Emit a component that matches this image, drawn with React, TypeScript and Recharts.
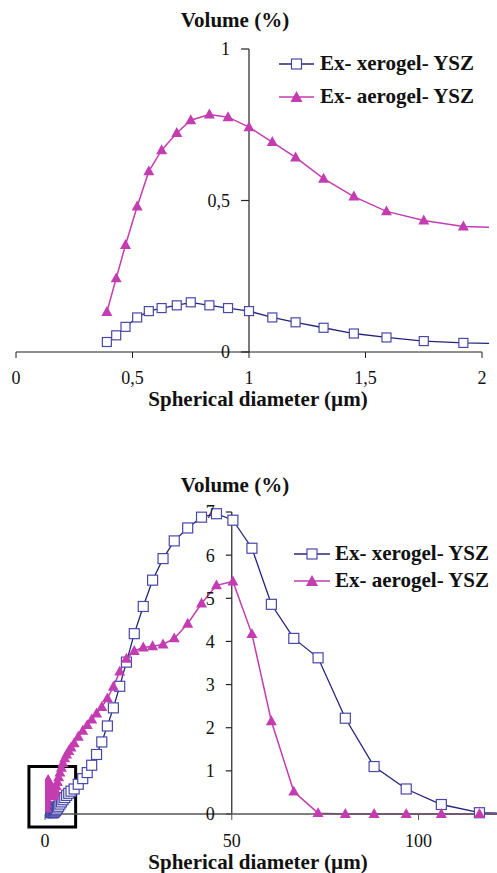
import React from "react";
import {
  LineChart,
  Line,
  XAxis,
  YAxis,
  ReferenceLine,
  ReferenceArea,
  Legend,
} from "recharts";

const SERIF = "Liberation Serif";
const XERO_LINE = "#24247c";
const XERO_MARK = "#4848a8";
const AERO = "#c43db0";
const AXIS = "#222";

// size bins (µm), shared by both series
const sizes = [
  0.39, 0.43, 0.47, 0.52, 0.57, 0.625, 0.69, 0.75, 0.83, 0.91, 1.0, 1.1, 1.2,
  1.32, 1.45, 1.59, 1.75, 1.92, 2.1, 2.3, 2.52, 2.77, 3.04, 3.33, 3.65, 4.0,
  4.39, 4.81, 5.28, 5.79, 6.35, 6.96, 7.8, 8.9, 10.1, 11.3, 12.5, 13.8, 15.2,
  16.7, 18.3, 20.0, 21.8, 23.9, 26.3, 28.8, 31.6, 34.6, 38.2, 41.9, 45.9, 50.3,
  55.4, 60.6, 66.6, 73.1, 80.4, 88.1, 96.7, 106.1, 116.3, 127,
];

// volume (%)
const xerogel = [
  0.033, 0.055, 0.083, 0.114, 0.135, 0.145, 0.154, 0.164, 0.154, 0.145, 0.135,
  0.114, 0.098, 0.08, 0.061, 0.048, 0.036, 0.03, 0.028, 0.035, 0.05, 0.075, 0.1,
  0.14, 0.18, 0.23, 0.28, 0.33, 0.38, 0.43, 0.48, 0.53, 0.58, 0.69, 0.82, 0.96,
  1.13, 1.38, 1.67, 2.04, 2.46, 2.96, 3.52, 4.18, 4.81, 5.42, 5.92, 6.33, 6.63,
  6.88, 6.96, 6.81, 6.16, 4.86, 4.07, 3.62, 2.22, 1.1, 0.58, 0.22, 0.03, 0.0,
];

const aerogel = [
  0.132, 0.243, 0.353, 0.48, 0.596, 0.666, 0.723, 0.765, 0.784, 0.775, 0.742,
  0.693, 0.642, 0.572, 0.513, 0.464, 0.434, 0.414, 0.41, 0.43, 0.48, 0.55, 0.64,
  0.74, 0.85, 0.96, 1.07, 1.18, 1.29, 1.38, 1.46, 1.54, 1.64, 1.79, 1.93, 2.06,
  2.19, 2.33, 2.48, 2.68, 2.95, 3.3, 3.6, 3.78, 3.86, 3.89, 3.93, 4.07, 4.41,
  4.88, 5.3, 5.39, 4.17, 2.15, 0.52, 0.02, 0, 0, 0, 0, 0, 0, 0,
];

const seriesNames = ["Ex- xerogel- YSZ", "Ex- aerogel- YSZ"];

const topXTicks = [0, 0.5, 1, 1.5, 2];
const topYTicks = [0, 0.5, 1];
const bottomXTicks = [0, 50, 100];
const bottomYTicks = [0, 1, 2, 3, 4, 5, 6, 7];

const rows = sizes.map((d, i) => ({ d, xero: xerogel[i], aero: aerogel[i] }));
const topRows = rows.filter((r) => r.d <= 2.1);

const comma = (v: number) => String(v).replace(".", ",");

function makeSquare(size: number) {
  return (props: any) => {
    const { cx, cy, index } = props;
    if (cx == null || cy == null) return <g key={`s-${index}`} />;
    return (
      <rect
        key={`s-${index}`}
        x={cx - size / 2}
        y={cy - size / 2}
        width={size}
        height={size}
        fill="#fff"
        stroke={XERO_MARK}
        strokeWidth={1.2}
      />
    );
  };
}

function makeTriangle(w: number) {
  return (props: any) => {
    const { cx, cy, index } = props;
    if (cx == null || cy == null) return <g key={`t-${index}`} />;
    const h = w * 0.9;
    return (
      <polygon
        key={`t-${index}`}
        points={`${cx},${cy - h * 0.6} ${cx - w / 2},${cy + h * 0.4} ${cx + w / 2},${cy + h * 0.4}`}
        fill={AERO}
      />
    );
  };
}

function LegendBox({ rowH, lineW, gap }: { rowH: number; lineW: number; gap: number }) {
  return (
    <div style={{ fontFamily: SERIF, fontWeight: "bold", fontSize: 21, color: "#111" }}>
      {seriesNames.map((name, i) => (
        <div key={name} style={{ height: rowH, display: "flex", alignItems: "center" }}>
          <svg width={lineW} height={14} style={{ marginRight: gap }}>
            <line x1={0} y1={7} x2={lineW} y2={7} stroke={i === 0 ? XERO_LINE : AERO} strokeWidth={1.5} />
            {i === 0 ? (
              <rect x={lineW / 2 - 5} y={2} width={10} height={10} fill="#fff" stroke={XERO_MARK} strokeWidth={1.2} />
            ) : (
              <polygon points={`${lineW / 2},1 ${lineW / 2 - 6},12 ${lineW / 2 + 6},12`} fill={AERO} />
            )}
          </svg>
          <span style={{ whiteSpace: "nowrap" }}>{name}</span>
        </div>
      ))}
    </div>
  );
}

const titleStyle: React.CSSProperties = {
  position: "absolute",
  fontFamily: SERIF,
  fontWeight: "bold",
  fontSize: 21,
  lineHeight: "22px",
  color: "#111",
  textAlign: "center",
  whiteSpace: "nowrap",
};

export default function App() {
  return (
    <div
      style={{
        position: "absolute",
        left: 0,
        top: 0,
        width: 497,
        height: 873,
        background: "#fff",
        fontFamily: SERIF,
        overflow: "hidden",
      }}
    >
      {/* top panel: 0 - 2 µm */}
      <div style={{ position: "absolute", left: 0, top: 0 }}>
        <LineChart
          width={497}
          height={410}
          data={topRows}
          margin={{ top: 49, right: 8, left: 16, bottom: 0 }}
          style={{ fontFamily: SERIF }}
        >
          <XAxis
            type="number"
            dataKey="d"
            domain={[0, 2.03]}
            allowDataOverflow
            ticks={topXTicks}
            interval={0}
            tickFormatter={comma}
            axisLine={false}
            tickLine={{ stroke: AXIS }}
            tickSize={6}
            tickMargin={13}
            height={58}
            tick={{ fill: "#111", fontSize: 18, fontFamily: SERIF }}
          />
          <YAxis hide type="number" domain={[0, 1]} />
          <ReferenceLine segment={[{ x: 0, y: 0 }, { x: 2, y: 0 }]} stroke={AXIS} strokeWidth={1.2} />
          <ReferenceLine segment={[{ x: 1, y: 0 }, { x: 1, y: 1 }]} stroke={AXIS} strokeWidth={1.2} />
          {topYTicks.map((v) => (
            <ReferenceLine
              key={v}
              segment={[{ x: 0.966, y: v }, { x: 1, y: v }]}
              stroke={AXIS}
              strokeWidth={1.2}
              label={{ value: comma(v), position: "left", offset: 11, fill: "#111", fontSize: 18, fontFamily: SERIF }}
            />
          ))}
          <Line
            type="linear"
            dataKey="xero"
            stroke={XERO_LINE}
            strokeWidth={1.3}
            dot={makeSquare(9)}
            isAnimationActive={false}
          />
          <Line
            type="linear"
            dataKey="aero"
            stroke={AERO}
            strokeWidth={1.5}
            dot={makeTriangle(11)}
            isAnimationActive={false}
          />
          <Legend
            layout="horizontal"
            verticalAlign="middle"
            align="center"
            wrapperStyle={{ top: 47, left: 279, width: 218 }}
            content={() => <LegendBox rowH={33} lineW={35} gap={6} />}
          />
        </LineChart>
        <div style={{ ...titleStyle, left: 0, width: 470, top: 9 }}>Volume (%)</div>
        <div style={{ ...titleStyle, left: 0, width: 516, top: 388 }}>Spherical diameter (µm)</div>
      </div>

      {/* bottom panel: full range */}
      <div style={{ position: "absolute", left: 0, top: 410 }}>
        <LineChart
          width={497}
          height={463}
          data={rows}
          margin={{ top: 102, right: 0, left: 45, bottom: 0 }}
          style={{ fontFamily: SERIF }}
        >
          <XAxis
            type="number"
            dataKey="d"
            domain={[0, 121]}
            allowDataOverflow
            ticks={bottomXTicks}
            interval={0}
            axisLine={{ stroke: "#555", strokeWidth: 1.5 }}
            tickLine={{ stroke: "#555" }}
            tickSize={6}
            tickMargin={14}
            height={59}
            tick={{ fill: "#111", fontSize: 18, fontFamily: SERIF }}
          />
          <YAxis hide type="number" domain={[0, 7]} />
          <ReferenceLine segment={[{ x: 50, y: 0 }, { x: 50, y: 7 }]} stroke={AXIS} strokeWidth={1.2} />
          {bottomYTicks.map((v) => (
            <ReferenceLine
              key={v}
              segment={[{ x: 48.4, y: v }, { x: 50, y: v }]}
              stroke={AXIS}
              strokeWidth={1.2}
              label={{ value: String(v), position: "left", offset: 11, fill: "#111", fontSize: 18, fontFamily: SERIF }}
            />
          ))}
          <Line
            type="linear"
            dataKey="xero"
            stroke={XERO_LINE}
            strokeWidth={1.3}
            dot={makeSquare(10)}
            isAnimationActive={false}
          />
          <Line
            type="linear"
            dataKey="aero"
            stroke={AERO}
            strokeWidth={1.5}
            dot={makeTriangle(11)}
            isAnimationActive={false}
          />
          <ReferenceArea
            x1={-4.3}
            x2={8.2}
            y1={-0.3}
            y2={1.1}
            ifOverflow="visible"
            fill="none"
            fillOpacity={0}
            stroke="#000"
            strokeWidth={3}
          />
          <Legend
            layout="horizontal"
            verticalAlign="middle"
            align="center"
            wrapperStyle={{ top: 130, left: 294, width: 203 }}
            content={() => <LegendBox rowH={27} lineW={36} gap={5} />}
          />
        </LineChart>
        <div style={{ ...titleStyle, left: 0, width: 470, top: 64 }}>Volume (%)</div>
        <div style={{ ...titleStyle, left: 0, width: 516, top: 441 }}>Spherical diameter (µm)</div>
      </div>
    </div>
  );
}
